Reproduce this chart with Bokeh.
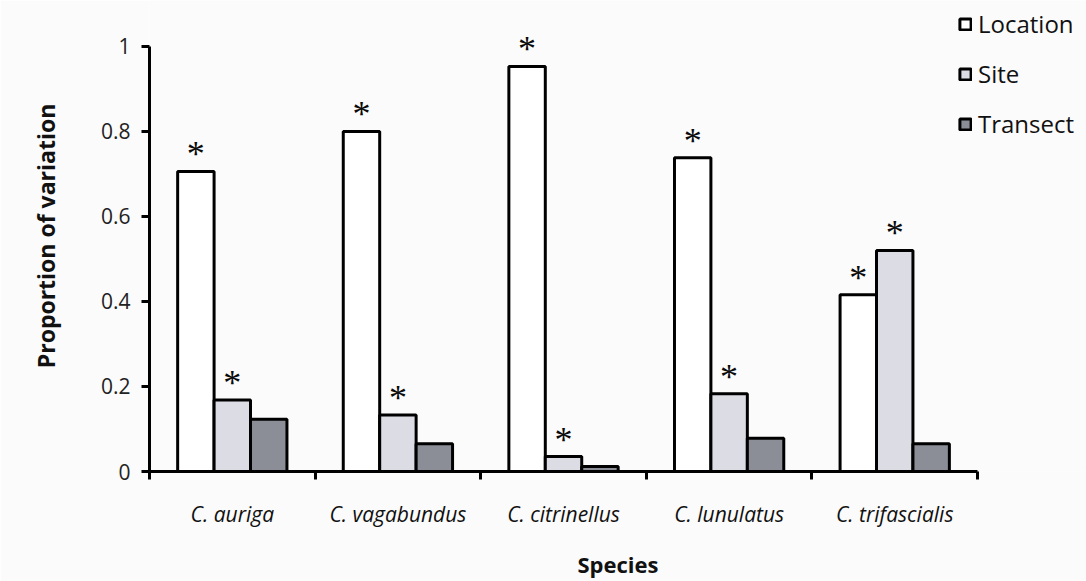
from bokeh.plotting import figure
from bokeh.models import (ColumnDataSource, FixedTicker, LabelSet, Legend, LegendItem,
                          Range1d, CustomJSTickFormatter)
from bokeh.embed import file_html
from bokeh.resources import INLINE

# Variance components per species
species = ["C. auriga", "C. vagabundus", "C. citrinellus", "C. lunulatus", "C. trifascialis"]
location = [0.706, 0.800, 0.953, 0.738, 0.416]
site = [0.168, 0.133, 0.035, 0.183, 0.520]
transect = [0.123, 0.065, 0.012, 0.078, 0.065]
# significance flags (asterisks)
location_sig = [True, True, True, True, True]
site_sig = [True, True, True, True, True]
transect_sig = [False, False, False, False, False]

series_names = ["Location", "Site", "Transect"]
series_values = [location, site, transect]
series_sig = [location_sig, site_sig, transect_sig]
series_colors = ["#ffffff", "#dcdce4", "#8b8e97"]
offsets = [-0.22, 0.0, 0.22]
bar_width = 0.22

FONT = "Open Sans"
BG = "#fbfbfb"

n = len(species)
# the frame runs to the right edge so the legend can sit beside the last group
p = figure(width=1086, height=581, output_backend="svg", toolbar_location=None,
           x_range=Range1d(0.5, n + 1.158), y_range=Range1d(0, 1.108),
           min_border_left=149, min_border_right=0, min_border_top=0,
           min_border_bottom=110)
p.background_fill_color = BG
p.border_fill_color = BG
p.outline_line_color = None
p.xgrid.visible = False
p.ygrid.visible = False

idx = list(range(1, n + 1))
renderers = []
for name, vals, sig, col, off in zip(series_names, series_values, series_sig,
                                     series_colors, offsets):
    xs = [i + off for i in idx]
    src = ColumnDataSource(dict(x=xs, top=vals,
                                star=["*" if s else "" for s in sig]))
    r = p.vbar(x="x", top="top", width=bar_width, bottom=0, source=src,
               fill_color=col, line_color="black", line_width=3)
    renderers.append((name, r))
    stars = LabelSet(x="x", y="top", text="star", source=src, text_align="center",
                     text_baseline="alphabetic", y_offset=5, text_font=FONT,
                     text_font_size="36px", text_color="#0a0a0a")
    p.add_layout(stars)

# x axis: species names centred, tick marks between groups
xa = p.xaxis[0]
xa.bounds = (0.5, n + 0.5)
xa.ticker = FixedTicker(ticks=idx, minor_ticks=[i - 0.5 for i in idx] + [n + 0.5])
xa.major_label_overrides = {i: s for i, s in zip(idx, species)}
xa.major_tick_out = 0
xa.major_tick_in = 0
xa.minor_tick_out = 8
xa.minor_tick_in = 0
xa.minor_tick_line_width = 3
xa.minor_tick_line_color = "black"
xa.axis_line_width = 3
xa.axis_line_color = "black"
xa.major_label_standoff = 20
xa.major_label_text_font = FONT
xa.major_label_text_font_style = "italic"
xa.major_label_text_font_size = "21px"
xa.major_label_text_color = "#111111"
xa.axis_label = "Species"
xa.axis_label_text_font = FONT
xa.axis_label_text_font_style = "bold"
xa.axis_label_text_font_size = "22px"
xa.axis_label_standoff = 18
xa.axis_label_text_color = "#111111"

ya = p.yaxis[0]
ya.bounds = (0, 1)
ya.ticker = FixedTicker(ticks=[0, 0.2, 0.4, 0.6, 0.8, 1.0], minor_ticks=[])
ya.formatter = CustomJSTickFormatter(code="return String(+tick.toFixed(1));")
ya.major_tick_out = 8
ya.major_tick_in = 0
ya.major_tick_line_width = 3
ya.axis_line_width = 3
ya.axis_line_color = "black"
ya.major_tick_line_color = "black"
ya.major_label_standoff = 11
ya.major_label_text_font = FONT
ya.major_label_text_font_size = "21px"
ya.major_label_text_color = "#222222"
ya.axis_label = "Proportion of variation"
ya.axis_label_text_font = FONT
ya.axis_label_text_font_style = "bold"
ya.axis_label_text_font_size = "23px"
ya.axis_label_standoff = 36
ya.axis_label_text_color = "#111111"

legend = Legend(items=[LegendItem(label=nm, renderers=[r]) for nm, r in renderers],
                location=(809, 331), orientation="vertical",
                glyph_width=14, glyph_height=14, label_height=32, spacing=17,
                label_standoff=6, padding=0, margin=0,
                label_text_font=FONT, label_text_font_size="24px",
                label_text_color="#111111",
                border_line_color=None, background_fill_alpha=0)
p.add_layout(legend, "center")

open("out.html", "w").write(file_html(p, INLINE))
